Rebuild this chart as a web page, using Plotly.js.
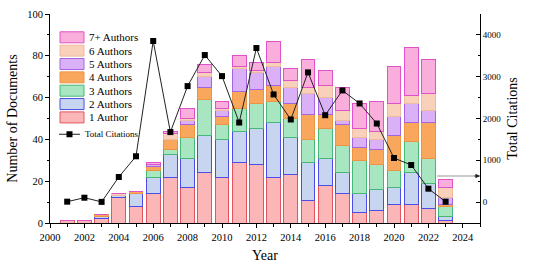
<!DOCTYPE html>
<html>
<head>
<meta charset="utf-8">
<script src="https://cdn.plot.ly/plotly-3.0.1.min.js"></script>
<style>html,body{margin:0;padding:0;background:#fff;}#chart{width:533px;height:270px;}</style>
</head>
<body>
<div id="chart"></div>
<script>
// ---- data ----
const years = [2001,2002,2003,2004,2005,2006,2007,2008,2009,2010,2011,2012,2013,2014,2015,2016,2017,2018,2019,2020,2021,2022,2023];
const author1 = [1,1,2,12,8,14,22,17,24,22,29,28,22,23,11,18,14,5,6,9,9,7,1];
const author2 = [0,0,1,1,6,8,11,14,18,18,15,17,26,18,18,13,10,9,10,8,15,12,2];
const author3 = [0,0,0,0,0,3,2,10,17,7,11,12,10,9,11,14,13,16,12,8,15,12,5];
const author4 = [0,0,1,0,1,2,5,6,6,4,8,7,8,7,12,7,10,6,7,17,9,17,1];
const author5 = [0,0,0,0,0,1,0,2,5,3,11,8,9,8,10,8,2,5,5,9,9,6,3];
const author6 = [0,0,0,1,0,0,3,1,2,1,1,1,2,3,3,6,5,4,4,6,4,8,5];
const author7 = [0,0,0,0,0,1,1,5,4,3,5,4,10,6,13,7,11,12,14,18,23,16,4];
const citations = [10,105,5,600,1096,3854,1675,2775,3518,3014,1904,3686,2576,1976,3103,2079,2671,2360,1880,1055,887,321,10];
const seriesNames = ["1 Author","2 Authors","3 Authors","4 Authors","5 Authors","6 Authors","7+ Authors"];
const lineName = "Total Citations";
const xTickVals = [2000,2002,2004,2006,2008,2010,2012,2014,2016,2018,2020,2022,2024];

// ---- styles ----
const fills = ["#FBB7B8","#C7D5F1","#A8E6C2","#F9A75C","#DAB1F6","#F9D0BA","#F9AEDC"];
const edges = ["#E4535E","#4C4CE6","#47B777","#EC9444","#A465E2","#EFBBA0","#E052C9"];
const FONT = "'Liberation Serif','Times New Roman',serif";

const seriesVals = [author1,author2,author3,author4,author5,author6,author7];
const traces = seriesVals.map((v,i)=>({
  type:"bar", x:years, y:v, name:seriesNames[i], showlegend:false,
  width:0.8,
  marker:{color:fills[i], line:{color:edges[i], width:1}},
  hoverinfo:"x+y+name"
}));
traces.push({
  type:"scatter", mode:"lines+markers", x:years, y:citations, yaxis:"y2",
  name:lineName, showlegend:false,
  line:{color:"#222", width:1},
  marker:{symbol:"square", size:6, color:"#000"}
});

// plot-area geometry (pixels) used for the hand-drawn legend
const L=50, T=14, W=430, H=209;
const px = x => (x-L)/W;
const py = y => (T+H-y)/H;

const shapes=[], annotations=[];
const legendOrder = [6,5,4,3,2,1,0];
legendOrder.forEach((si,k)=>{
  const cy = 37.3 + k*13.35;
  shapes.push({type:"rect", xref:"paper", yref:"paper",
    x0:px(60), x1:px(84), y0:py(cy+5.5), y1:py(cy-5.5),
    fillcolor:fills[si], line:{color:edges[si], width:1}});
  annotations.push({xref:"paper", yref:"paper", x:px(87), y:py(cy),
    xanchor:"left", yanchor:"middle", showarrow:false, text:seriesNames[si],
    font:{family:FONT, size:11, color:"#000"}});
});
const ly = 37.3 + 7*13.35 + 3.5;
shapes.push({type:"line", xref:"paper", yref:"paper", x0:px(59), x1:px(80), y0:py(ly), y1:py(ly), line:{color:"#222", width:1}});
shapes.push({type:"rect", xref:"paper", yref:"paper", x0:px(66.5), x1:px(72.5), y0:py(ly+3), y1:py(ly-3), fillcolor:"#000", line:{width:0}});
annotations.push({xref:"paper", yref:"paper", x:px(83), y:py(ly), xanchor:"left", yanchor:"middle",
  showarrow:false, text:lineName, font:{family:FONT, size:9, color:"#000"}});
// small arrow pointing at the right-hand axis (grey shaft, dark head)
shapes.push({type:"line", xref:"paper", yref:"paper", x0:px(437), x1:1, y0:py(176), y1:py(176), line:{color:"#999", width:1}});
annotations.push({xref:"paper", yref:"paper", x:1, y:py(176), ax:-7, ay:0,
  showarrow:true, arrowhead:2, arrowsize:0.9, arrowwidth:1, arrowcolor:"#222", text:""});

const layout = {
  width:533, height:270,
  margin:{l:L, r:533-L-W, t:T, b:270-T-H, pad:0},
  paper_bgcolor:"#fff", plot_bgcolor:"#fff",
  barmode:"stack", bargap:0.2,
  font:{family:FONT, color:"#000"},
  showlegend:false,
  xaxis:{range:[2000,2025], tickvals:xTickVals, ticktext:xTickVals.map(String),
    ticks:"outside", ticklen:4, tickcolor:"#000", showline:true, linecolor:"#000", linewidth:1,
    showgrid:false, zeroline:false, tickfont:{family:FONT, size:10.5},
    minor:{dtick:1, tick0:2000, ticks:"outside", ticklen:2.5, tickcolor:"#000"},
    title:{text:"Year", font:{family:FONT, size:14}, standoff:8}},
  yaxis:{range:[0,100], dtick:20, tick0:0, ticks:"outside", ticklen:4, tickcolor:"#000",
    showline:true, linecolor:"#000", linewidth:1, showgrid:false, zeroline:false,
    tickfont:{family:FONT, size:10.5},
    minor:{dtick:10, ticks:"outside", ticklen:2.5, tickcolor:"#000"},
    title:{text:"Number of Documents", font:{family:FONT, size:14}, standoff:6}},
  yaxis2:{range:[-500,4500], overlaying:"y", side:"right", anchor:"x",
    tickvals:[0,1000,2000,3000,4000], ticks:"inside", ticklen:4, tickcolor:"#000",
    showline:true, linecolor:"#000", linewidth:1, showgrid:false, zeroline:false,
    tickfont:{family:FONT, size:9},
    minor:{dtick:500, tick0:0, ticks:"inside", ticklen:2.5, tickcolor:"#000"},
    title:{text:"Total Citations", font:{family:FONT, size:14}, standoff:6}},
  shapes:shapes, annotations:annotations
};

Plotly.newPlot("chart", traces, layout, {displayModeBar:false, staticPlot:true});
</script>
</body>
</html>
